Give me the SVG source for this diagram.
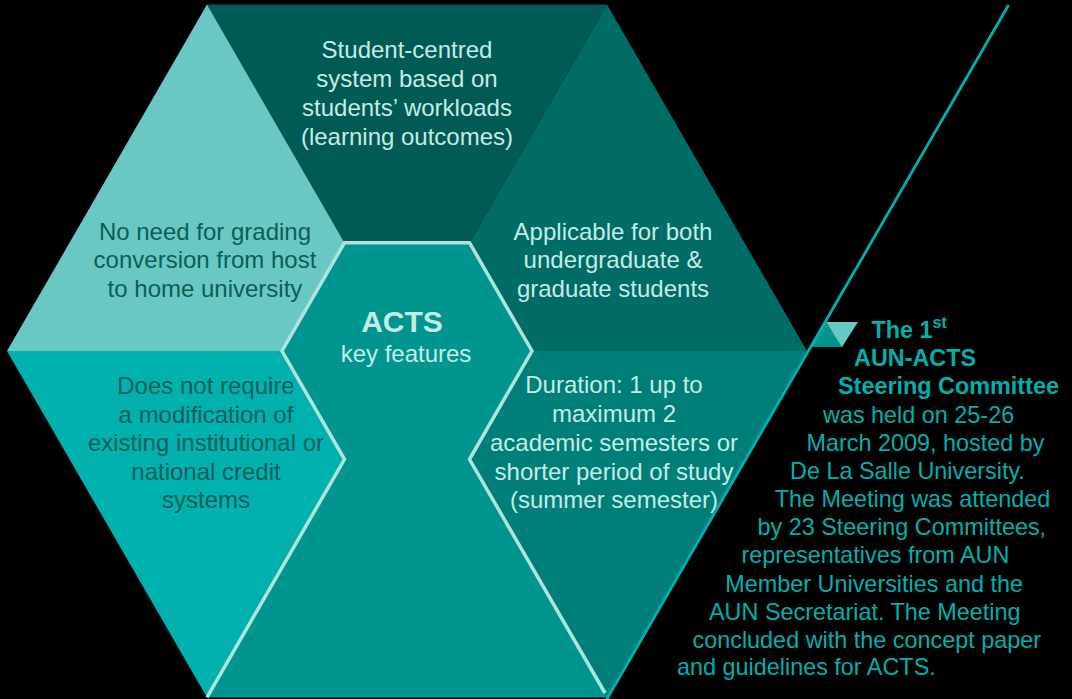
<svg xmlns="http://www.w3.org/2000/svg" width="1072" height="699" viewBox="0 0 1072 699">
<style>
text{font-family:"Liberation Sans",Arial,Helvetica,sans-serif;}
.hx{font-size:24px;text-anchor:middle;}
.lt{fill:#c5ebe6;}
.dk{fill:#0c5e57;}
.rt{font-size:23.4px;fill:#00b0ad;}
.rb{font-weight:bold;}
</style>
<rect x="0" y="0" width="1072" height="699" fill="#000"/>
<g id="hexagon">
<polygon id="t2" points="207,4.6 607,4.6 407,351" fill="#005b54"/>
<polygon id="t3" points="607,4.6 407,351 807,351" fill="#006c66"/>
<polygon id="t1" points="207,4.6 7,351 407,351" fill="#6ac8c4"/>
<polygon id="t4" points="7,351 407,351 207,697.4" fill="#00b1ae"/>
<polygon id="t6" points="407,351 807,351 608,699 607,699" fill="#007f79"/>
</g>
<g id="center">
<polygon points="344.5,242.7 469.5,242.7 532,351 469.5,459.3 607,697.4 207,697.4 344.5,459.3 282,351" fill="#00958f"/>
<polyline points="207,697.4 344.5,459.3 282,351 344.5,242.7 469.5,242.7 532,351 469.5,459.3 605,693" fill="none" stroke="#aee3df" stroke-width="3.5" stroke-linejoin="miter"/>
<text class="lt" text-anchor="middle" font-weight="bold" font-size="30" x="402" y="332">ACTS</text>
<text class="hx lt" x="406" y="362">key features</text>
</g>
<g id="node-top">
<text class="hx lt"><tspan x="407" y="58">Student-centred</tspan><tspan x="407" y="87">system based on</tspan><tspan x="407" y="116">students’ workloads</tspan><tspan x="407" y="145">(learning outcomes)</tspan></text>
</g>
<g id="node-top-left">
<text class="hx dk"><tspan x="205" y="240">No need for grading</tspan><tspan x="205" y="268">conversion from host</tspan><tspan x="205" y="297">to home university</tspan></text>
</g>
<g id="node-top-right">
<text class="hx lt"><tspan x="613" y="240">Applicable for both</tspan><tspan x="613" y="268">undergraduate &amp;</tspan><tspan x="613" y="297">graduate students</tspan></text>
</g>
<g id="node-bottom-left">
<text class="hx dk"><tspan x="206" y="394">Does not require</tspan><tspan x="206" y="422.7">a modification of</tspan><tspan x="206" y="451">existing institutional or</tspan><tspan x="206" y="480">national credit</tspan><tspan x="206" y="508">systems</tspan></text>
</g>
<g id="node-bottom-right">
<text class="hx lt"><tspan x="614" y="393">Duration: 1 up to</tspan><tspan x="614" y="422">maximum 2</tspan><tspan x="614" y="451">academic semesters or</tspan><tspan x="614" y="480">shorter period of study</tspan><tspan x="614" y="508">(summer semester)</tspan></text>
</g>
<g id="connectors">
<polygon points="826,322 811,347 843,347" fill="#00958f"/>
<polygon points="826,322 858,322 842,347" fill="#6ac8c4"/>
<line x1="1008" y1="6" x2="607" y2="699" stroke="#00b0b0" stroke-width="2.8" stroke-linecap="round"/>
</g>
<g id="note">
<text class="rt rb" x="871.5" y="338">The 1<tspan font-size="16" dy="-10">st</tspan></text>
<text class="rt rb" x="854" y="366">AUN-ACTS</text>
<text class="rt rb" x="838" y="394.3">Steering Committee</text>
<text class="rt" x="823" y="422.7">was held on 25-26</text>
<text class="rt" x="806.5" y="451">March 2009, hosted by</text>
<text class="rt" x="790" y="479">De La Salle University.</text>
<text class="rt" x="774.7" y="507">The Meeting was attended</text>
<text class="rt" x="757.5" y="535">by 23 Steering Committees,</text>
<text class="rt" x="741.5" y="563">representatives from AUN</text>
<text class="rt" x="725.3" y="591.7">Member Universities and the</text>
<text class="rt" x="709" y="620">AUN Secretariat. The Meeting</text>
<text class="rt" x="692.5" y="648">concluded with the concept paper</text>
<text class="rt" x="677" y="675">and guidelines for ACTS.</text>
</g>
</svg>
